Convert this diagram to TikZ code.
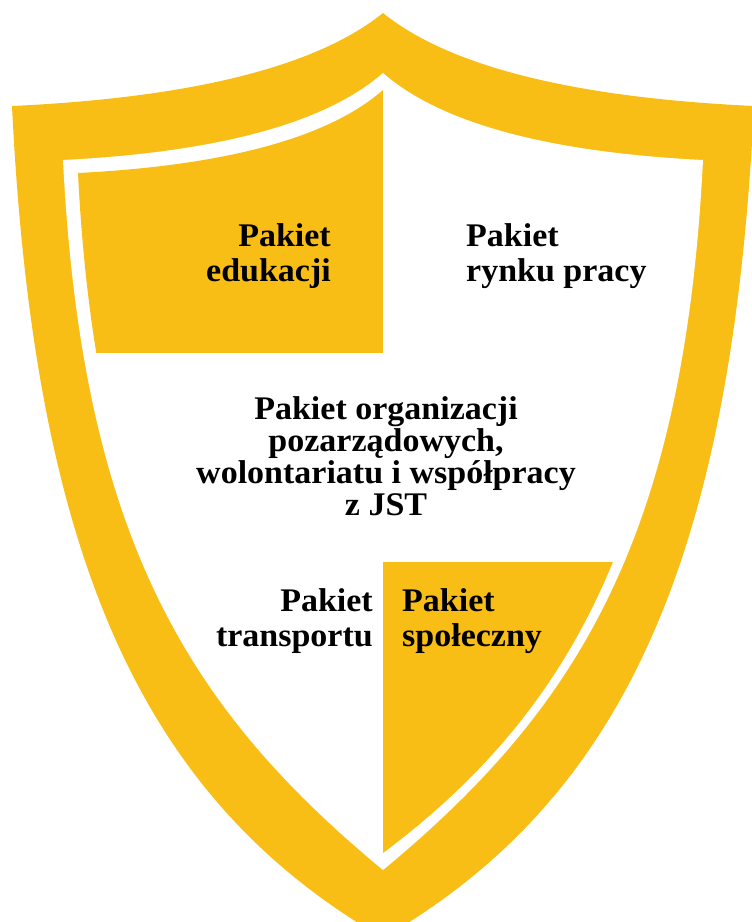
\documentclass[tikz,border=0pt]{standalone}
\usepackage{fontspec}
\setmainfont{Liberation Serif}[FakeStretch=1.03]
\definecolor{shieldyellow}{RGB}{249,190,22}
\tikzset{
  lbl/.style={font=\fontsize{33}{33}\selectfont\bfseries, inner sep=0pt, text=black},
  lblE/.style={lbl, anchor=base east},
  lblW/.style={lbl, anchor=base west},
  lblC/.style={lbl, anchor=base},
}
\begin{document}
\begin{tikzpicture}[x=1pt,y=-1pt]
\useasboundingbox (0,0) rectangle (752,922);
% outer shield
\fill[shieldyellow] (383,13) .. controls (300,80) and (140,100) .. (12,106)
  .. controls (34,556) and (141,798) .. (383,938)
  .. controls (625,798) and (732,556) .. (754,106)
  .. controls (626,100) and (466,80) .. (383,13) -- cycle;
% inner white field
\fill[white] (383,73) .. controls (311.4,135.7) and (173.4,154.4) .. (63,160)
  .. controls (82,540) and (190,710) .. (383,870)
  .. controls (576,710) and (684,540) .. (703,160)
  .. controls (592.6,154.4) and (454.6,135.7) .. (383,73) -- cycle;
% yellow quarters
\begin{scope}
\clip (383,90) .. controls (314.8,149.8) and (183,167.6) .. (78,173)
  .. controls (96,533) and (199,715) .. (383,853)
  .. controls (567,715) and (670,533) .. (688,173)
  .. controls (583,167.6) and (451.2,149.8) .. (383,90) -- cycle;
\fill[shieldyellow] (0,0) rectangle (383,353);
\fill[shieldyellow] (383,562) rectangle (752,922);
\end{scope}
% labels
\node[lblE] (edu1) at (331,246) {Pakiet};
\node[lblE] (edu2) at (331,281) {edukacji};
\node[lblW] (ryn1) at (466,246) {Pakiet};
\node[lblW] (ryn2) at (466,281) {rynku pracy};
\node[lblC] (org1) at (386,419) {Pakiet organizacji};
\node[lblC] (org2) at (386,451) {pozarządowych,};
\node[lblC] (org3) at (386,483) {wolontariatu i współpracy};
\node[lblC] (org4) at (386,515) {z JST};
\node[lblE] (tra1) at (373,611) {Pakiet};
\node[lblE] (tra2) at (373,646) {transportu};
\node[lblW] (spo1) at (402,611) {Pakiet};
\node[lblW] (spo2) at (402,646) {społeczny};
\end{tikzpicture}
\end{document}
